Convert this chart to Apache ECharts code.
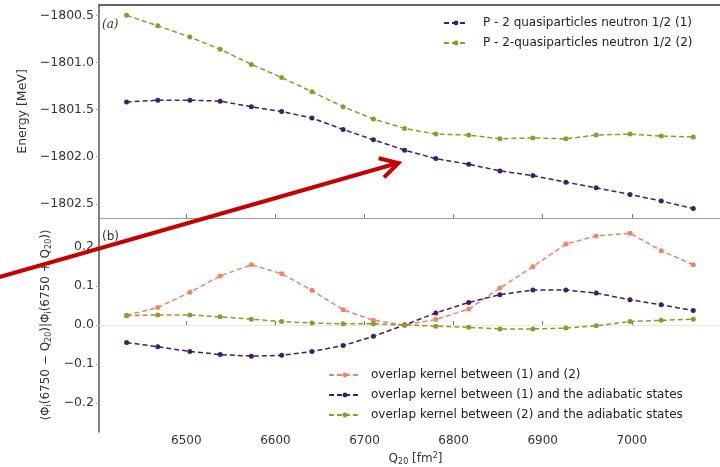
<!DOCTYPE html>
<html>
<head>
<meta charset="utf-8">
<script src="https://cdn.jsdelivr.net/npm/echarts@6/dist/echarts.min.js"></script>
<style>html,body{margin:0;padding:0;background:#fff;}#c{width:720px;height:467px;}</style>
</head>
<body>
<div id="c"></div>
<script>
// Q20 values (fm^2)
const qValues = [6433, 6468, 6504, 6538, 6573, 6607, 6641, 6676, 6710, 6745, 6780, 6817, 6852, 6889, 6926, 6960, 6998, 7033, 7069];
// Panel (a): energies (MeV)
const energy1 = [-1801.42, -1801.40, -1801.40, -1801.41, -1801.47, -1801.52, -1801.59, -1801.71, -1801.82, -1801.93, -1802.02, -1802.08, -1802.15, -1802.20, -1802.27, -1802.33, -1802.40, -1802.47, -1802.55];
const energy2 = [-1800.50, -1800.61, -1800.73, -1800.86, -1801.02, -1801.16, -1801.31, -1801.47, -1801.60, -1801.70, -1801.76, -1801.77, -1801.81, -1801.80, -1801.81, -1801.77, -1801.76, -1801.78, -1801.79];
// Panel (b): overlap kernels
const overlap12 = [0.025, 0.045, 0.084, 0.126, 0.155, 0.132, 0.089, 0.039, 0.012, 0.000, 0.014, 0.041, 0.095, 0.150, 0.208, 0.229, 0.236, 0.191, 0.155];
const overlap1A = [-0.045, -0.056, -0.068, -0.076, -0.080, -0.078, -0.068, -0.053, -0.029, 0.000, 0.031, 0.058, 0.078, 0.090, 0.090, 0.082, 0.065, 0.052, 0.037];
const overlap2A = [0.024, 0.026, 0.026, 0.021, 0.015, 0.009, 0.005, 0.003, 0.003, 0.000, -0.003, -0.006, -0.010, -0.010, -0.008, -0.002, 0.009, 0.012, 0.015];
// Names and ticks
const namesTop = ['P - 2 quasiparticles neutron 1/2 (1)', 'P - 2-quasiparticles neutron 1/2 (2)'];
const namesBottom = ['overlap kernel between (1) and (2)', 'overlap kernel between (1) and the adiabatic states', 'overlap kernel between (2) and the adiabatic states'];
const xTicks = [6500, 6600, 6700, 6800, 6900, 7000];
const yTicksTop = [-1802.5, -1802.0, -1801.5, -1801.0, -1800.5];
const yTicksBottom = [-0.2, -0.1, 0.0, 0.1, 0.2];

const PURPLE = '#3d1f6e', GREEN = '#8e9b2c', ORANGE = '#ee8468';
const FONT = 'DejaVu Sans';
const pair = (arr) => qValues.map((q, i) => [q, arr[i]]);
const fmt = (v) => v.toFixed(1).replace('-', '\u2212');

function mkSeries(name, data, color, xi, yi) {
  return {
    name, type: 'line', xAxisIndex: xi, yAxisIndex: yi, data: pair(data),
    symbol: 'circle', symbolSize: 5, showSymbol: true,
    lineStyle: { color, width: 1.5, type: [5, 3] },
    itemStyle: { color },
    emphasis: { disabled: true }, animation: false
  };
}

const xBase = {
  type: 'value', min: 6402, max: 7099, splitLine: { show: false }
};

const chart = echarts.init(document.getElementById('c'), null, { renderer: 'canvas' });
chart.setOption({
  animation: false,
  backgroundColor: '#fff',
  textStyle: { fontFamily: FONT },
  grid: [
    { left: 99, right: -3, top: 5, height: 213 },
    { left: 99, right: -3, top: 218, height: 214 }
  ],
  xAxis: [
    Object.assign({}, xBase, {
      gridIndex: 0,
      axisLine: { show: true, lineStyle: { color: '#999', width: 1 } },
      axisTick: { show: true, inside: true, length: 4, customValues: xTicks, lineStyle: { color: '#777' } },
      axisLabel: { show: false }
    }),
    Object.assign({}, xBase, {
      gridIndex: 1,
      axisLine: { show: true, lineStyle: { color: '#e6e6e6', width: 1 } },
      axisTick: { show: true, inside: true, length: 4, customValues: xTicks, lineStyle: { color: '#777' } },
      axisLabel: { show: true, customValues: xTicks, formatter: (v) => String(Math.round(v)), margin: 3, color: '#333', fontSize: 12, fontFamily: FONT },
      name: 'Q{s|20} [fm{p|2}]', nameLocation: 'middle', nameGap: 20,
      nameTextStyle: { color: '#333', fontSize: 12, fontFamily: FONT, padding: [0, 0, 0, 12],
        rich: { s: { fontSize: 8, verticalAlign: 'bottom', padding: [6, 0, 0, 0], color: '#333' },
                p: { fontSize: 8, verticalAlign: 'top', padding: [0, 0, 6, 0], color: '#333' } } }
    }),
    Object.assign({}, xBase, {
      gridIndex: 0, position: 'top',
      axisLine: { show: true, lineStyle: { color: '#333', width: 1.5 } },
      axisTick: { show: false }, axisLabel: { show: false }
    })
  ],
  yAxis: [
    {
      type: 'value', gridIndex: 0, min: -1802.65, max: -1800.39,
      splitLine: { show: false },
      axisLine: { show: true, lineStyle: { color: '#555', width: 1.5 } },
      axisTick: { show: true, inside: false, length: 3, customValues: yTicksTop, lineStyle: { color: '#aaa' } },
      axisLabel: { customValues: yTicksTop, formatter: fmt, margin: 5, color: '#333', fontSize: 12.5, fontFamily: FONT },
      name: 'Energy [MeV]', nameLocation: 'middle', nameRotate: 90, nameGap: 54,
      nameTextStyle: { color: '#333', fontSize: 12.5, fontFamily: FONT }
    },
    {
      type: 'value', gridIndex: 1, min: -0.275, max: 0.275,
      splitLine: { show: false },
      axisLine: { show: true, lineStyle: { color: '#555', width: 1.5 } },
      axisTick: { show: true, inside: false, length: 3, customValues: yTicksBottom, lineStyle: { color: '#aaa' } },
      axisLabel: { customValues: yTicksBottom, formatter: fmt, margin: 5, color: '#333', fontSize: 12.5, fontFamily: FONT },
      name: '\u27e8\u03a6{s|i}(6750 \u2212 Q{s|20})|\u03a6{s|i}(6750 + Q{s|20})\u27e9',
      nameLocation: 'middle', nameRotate: 90, nameGap: 34,
      nameTextStyle: { color: '#333', fontSize: 12, fontFamily: FONT,
        rich: { s: { fontSize: 8, verticalAlign: 'bottom', padding: [6, 0, 0, 0], color: '#333' } } }
    }
  ],
  legend: [
    {
      data: namesTop, left: 443, top: 17, orient: 'vertical', padding: 0,
      itemWidth: 24, itemHeight: 6, itemGap: 8,
      textStyle: { fontSize: 12, color: '#222', fontFamily: FONT, padding: [0, 0, 0, 10] },
      selectedMode: false
    },
    {
      data: namesBottom, left: 328, top: 369, orient: 'vertical', padding: 0,
      itemWidth: 32, itemHeight: 6, itemGap: 8,
      textStyle: { fontSize: 12, color: '#222', fontFamily: FONT, padding: [0, 0, 0, 5] },
      selectedMode: false
    }
  ],
  series: [
    mkSeries(namesTop[0], energy1, PURPLE, 0, 0),
    mkSeries(namesTop[1], energy2, GREEN, 0, 0),
    mkSeries(namesBottom[0], overlap12, ORANGE, 1, 1),
    mkSeries(namesBottom[1], overlap1A, PURPLE, 1, 1),
    mkSeries(namesBottom[2], overlap2A, GREEN, 1, 1)
  ],
  graphic: [
    { type: 'text', left: 102, top: 19, style: { text: '(a)', font: 'italic 12px "DejaVu Serif"', fill: '#333' } },
    { type: 'text', left: 102, top: 231, style: { text: '(b)', font: '12px "DejaVu Sans"', fill: '#333' } },
    { type: 'line', z: 100, shape: { x1: -2, y1: 277.5, x2: 398, y2: 163 }, style: { stroke: '#c40000', lineWidth: 4 } },
    { type: 'polyline', z: 100, shape: { points: [[378.6, 158.2], [398.5, 163], [384, 177.4]] }, style: { stroke: '#c40000', lineWidth: 4, fill: null, lineJoin: 'miter' } }
  ]
});
</script>
</body>
</html>
